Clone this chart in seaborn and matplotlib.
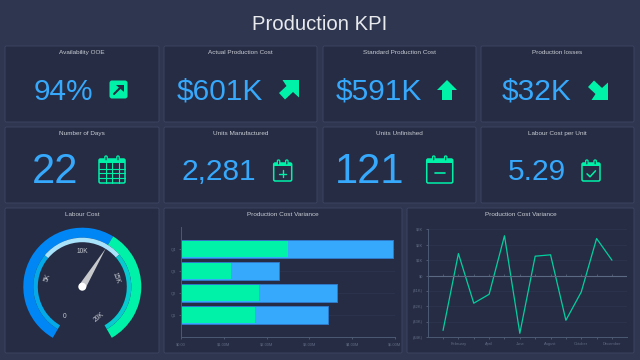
import numpy as np
import pandas as pd
import seaborn as sns
from matplotlib import pyplot as plt
from matplotlib.patches import FancyBboxPatch, Rectangle, Polygon, Wedge, Circle

# ========================================================
titles = ["Availability OOE", "Actual Production Cost", "Standard Production Cost", "Production losses",
          "Number of Days", "Units Manufactured", "Units Unfinished", "Labour Cost per Unit"]
kpis = ["94%", "$601K", "$591K", "$32K", "22", "2,281", "121", "5.29"]

quarters = ["Q4", "Q3", "Q2", "Q1"]
green_part = [2.49, 1.16, 1.83, 1.73]
bar_total = [4.95, 2.30, 3.64, 3.43]
bar_ticks = [0, 1, 2, 3, 4, 5]
bar_ticklabels = ["$0.00", "$1.00M", "$2.00M", "$3.00M", "$4.00M", "$5.00M"]

months = ["January", "February", "March", "April", "May", "June", "July", "August",
          "September", "October", "November", "December"]
variance = [-3.57, 1.43, -1.80, -1.22, 2.59, -3.76, 1.26, 1.35, -2.91, -1.07, 2.41, 1.00]
line_ticks = [-4, -3, -2, -1, 0, 1, 2, 3]
line_ticklabels = ["($4K)", "($3K)", "($2K)", "($1K)", "$0", "$1K", "$2K", "$3K"]

gauge_labels = ["0", "5K", "10K", "15K", "20K"]
gauge_value = 12100
gauge_max = 20000

# ========================================================
BG = "#2e3650"
CARD = "#262c43"
EDGE = "#3b4360"
BLUE = "#36a9fd"
GREEN = "#00f2a9"
TXT = "#c9ccd4"
TICK = "#5f6b85"

sns.set_theme(style="dark")
plt.rcParams["font.family"] = ["Liberation Sans", "DejaVu Sans"]

fig = plt.figure(figsize=(6.4, 3.6), dpi=100, facecolor=BG)
canvas = fig.add_axes([0, 0, 1, 1], zorder=0)
canvas.set_xlim(0, 640)
canvas.set_ylim(360, 0)
canvas.axis("off")


def card(x0, y0, x1, y1, title):
    canvas.add_patch(FancyBboxPatch((x0, y0), x1 - x0, y1 - y0, boxstyle="round,pad=0,rounding_size=1.5",
                                    fc=CARD, ec=EDGE, lw=0.7))
    canvas.text((x0 + x1) / 2, y0 + 6.7, title, color=TXT, fontsize=4.6, ha="center", va="center")


def corner_arrow(cx, cy, flip=1):
    # arrow to the upper right, flip=-1 turns it to the lower right
    shape = np.array([[-6.5, -10], [10, -10], [10, 7.5], [4, 2], [-4, 9.5], [-10, 3], [-2.5, -4]], dtype=float)
    shape[:, 1] *= flip
    canvas.add_patch(Polygon(shape + [cx, cy], fc=GREEN, ec="none"))


def calendar(cx, cy, w, h, mark):
    x0, y0 = cx - w / 2, cy - h / 2
    canvas.add_patch(FancyBboxPatch((x0, y0), w, h, boxstyle="round,pad=0,rounding_size=1.5",
                                    fc="none", ec=GREEN, lw=1.1))
    canvas.add_patch(Rectangle((x0, y0), w, h * 0.17, fc=GREEN, ec="none"))
    for dx in (0.27, 0.73):
        canvas.add_patch(FancyBboxPatch((x0 + w * dx - 1.2, y0 - 3), 2.4, 5, boxstyle="round,pad=0,rounding_size=1",
                                        fc=CARD, ec=GREEN, lw=0.9))
    my = cy + h * 0.1
    if mark == "grid":
        for f in (0.25, 0.5, 0.75):
            canvas.plot([x0 + w * f] * 2, [y0 + h * 0.17, y0 + h], color=GREEN, lw=0.8)
        for f in (0.4, 0.6, 0.8):
            canvas.plot([x0, x0 + w], [y0 + h * f] * 2, color=GREEN, lw=0.8)
    elif mark == "plus":
        canvas.plot([cx - 3.5, cx + 3.5], [my, my], color=GREEN, lw=1.0)
        canvas.plot([cx, cx], [my - 3.5, my + 3.5], color=GREEN, lw=1.0)
    elif mark == "minus":
        canvas.plot([cx - 5, cx + 5], [my, my], color=GREEN, lw=1.2)
    elif mark == "check":
        canvas.plot([cx - 4, cx - 1, cx + 4.5], [my, my + 3, my - 3], color=GREEN, lw=1.1)


# ========================================================
canvas.text(320, 30, "Production KPI", color="#e8eaee", fontsize=14.6, ha="center", va="baseline")

col_x = [(5, 159), (164, 317), (323, 476), (481, 634)]
row_y = [(46, 122), (127, 203)]
text_x = [63, 220, 379, 537, 55, 219, 370, 537]
text_y = [100, 100, 100, 100, 183, 180, 183, 180]
text_size = [21.5, 21.5, 21.5, 21.5, 30, 21.5, 30, 21.5]

for i, name in enumerate(titles):
    x0, x1 = col_x[i % 4]
    y0, y1 = row_y[i // 4]
    card(x0, y0, x1, y1, name)
    canvas.text(text_x[i], text_y[i], kpis[i], color=BLUE, fontsize=text_size[i], ha="center", va="baseline")

# arrow in a rounded square for the first card
canvas.add_patch(FancyBboxPatch((109.5, 80.5), 18, 18, boxstyle="round,pad=0,rounding_size=2.5", fc=GREEN, ec="none"))
canvas.plot([114, 122], [94, 86], color=CARD, lw=1.5)
canvas.add_patch(Polygon([[116, 84.5], [123.5, 84.5], [123.5, 92]], fc=CARD, ec="none"))
corner_arrow(289, 90)
canvas.add_patch(Polygon([[447, 80], [457, 90], [452, 90], [452, 100], [442, 100], [442, 90], [437, 90]],
                         fc=GREEN, ec="none"))
corner_arrow(598, 90, -1)
calendar(112, 171, 26, 24, "grid")
calendar(282.7, 172, 18, 18, "plus")
calendar(439.7, 171, 26, 24, "minus")
calendar(591, 172, 18, 18, "check")

# ========================================================
card(5, 208, 159, 353, "Labour Cost")
cx, cy = 82.3, 286.7
start, end = 240, -60


def to_deg(v):
    return start - (start - end) * v / gauge_max


def ring(r, w, a0, a1, color):
    # the canvas y axis runs down, so the angles are negated
    canvas.add_patch(Wedge((cx, cy), r, -a0, -a1, width=w, fc=color, ec="none"))


split = to_deg(gauge_value)
ring(59, 10, start, split, "#0087f5")
ring(59, 10, split, end, GREEN)
ring(49, 4.5, start, 140, "#05a9e8")
ring(49, 4.5, 140, 41, "#a9e2fb")
ring(49, 4.5, 41, end, "#07c9d0")

label_rot = [0, 70, 0, -70, 40]
label_pos = [(64.7, 317), (47.7, 278), (82.3, 251.7), (116, 277.7), (99, 317)]
for lab, pos, rot in zip(gauge_labels, label_pos, label_rot):
    canvas.text(pos[0], pos[1], lab, color=TXT, fontsize=4.8, rotation=rot, ha="center", va="center")

a = np.radians(split)
tip = [cx + 45 * np.cos(a), cy - 45 * np.sin(a)]
n = np.array([np.sin(a), np.cos(a)]) * 3.6
canvas.add_patch(Polygon([tip, [cx + n[0], cy + n[1]], [cx - n[0], cy - n[1]]], fc="#c8c9cc", ec="none"))
canvas.add_patch(Circle((cx, cy), 4, fc="white", ec="none"))

# ========================================================
card(164, 208, 402, 353, "Production Cost Variance")
axb = fig.add_axes([181 / 640, 1 - 337 / 360, 214 / 640, 110 / 360], facecolor="none", zorder=1)
bars = pd.DataFrame({"quarter": quarters, "green": green_part, "total": bar_total})
sns.barplot(data=bars, y="quarter", x="total", color=BLUE, saturation=1, width=0.8, ax=axb,
            edgecolor="#2f79c9", linewidth=0.7)
sns.barplot(data=bars, y="quarter", x="green", color=GREEN, saturation=1, width=0.77, ax=axb, linewidth=0)
axb.set_xlim(0, 5)
axb.set_ylim(4, -1)
axb.set_xticks(bar_ticks, bar_ticklabels)
axb.set_xlabel("")
axb.set_ylabel("")
axb.tick_params(axis="both", colors=TICK, labelsize=2.9, length=1.2, width=0.5, pad=2.5, bottom=True, left=True)
axb.grid(axis="y", color="#2e3550", lw=0.5)
axb.set_axisbelow(True)
for s in ("top", "right"):
    axb.spines[s].set_visible(False)
for s in ("left", "bottom"):
    axb.spines[s].set_color("#4d5a74")
    axb.spines[s].set_linewidth(0.7)

# ========================================================
card(407, 208, 634, 353, "Production Cost Variance")
axl = fig.add_axes([428 / 640, 1 - 337 / 360, 199 / 640, 108 / 360], facecolor="none", zorder=1)
sns.lineplot(x=months, y=variance, color="#00d0a0", lw=0.9, sort=False, ax=axl)
axl.set_xlim(-0.98, 11.98)
axl.set_ylim(-4, 3.03)
axl.set_yticks(line_ticks, line_ticklabels)
axl.set_xticks(range(12))
axl.set_xticklabels([m if i % 2 == 1 else "" for i, m in enumerate(months)])
axl.axhline(0, color="#5c6983", lw=0.8)
axl.vlines(range(12), 0, 0.1, color="#5c6983", lw=0.5)
axl.tick_params(axis="both", colors=TICK, labelsize=2.9, length=1.2, width=0.5, pad=2.5, bottom=True, left=True)
axl.grid(axis="y", color="#2e3550", lw=0.5)
axl.set_axisbelow(True)
for s in ("top", "right"):
    axl.spines[s].set_visible(False)
for s in ("left", "bottom"):
    axl.spines[s].set_color("#4d5a74")
    axl.spines[s].set_linewidth(0.7)

plt.savefig("out.png", dpi=100, facecolor=BG)
